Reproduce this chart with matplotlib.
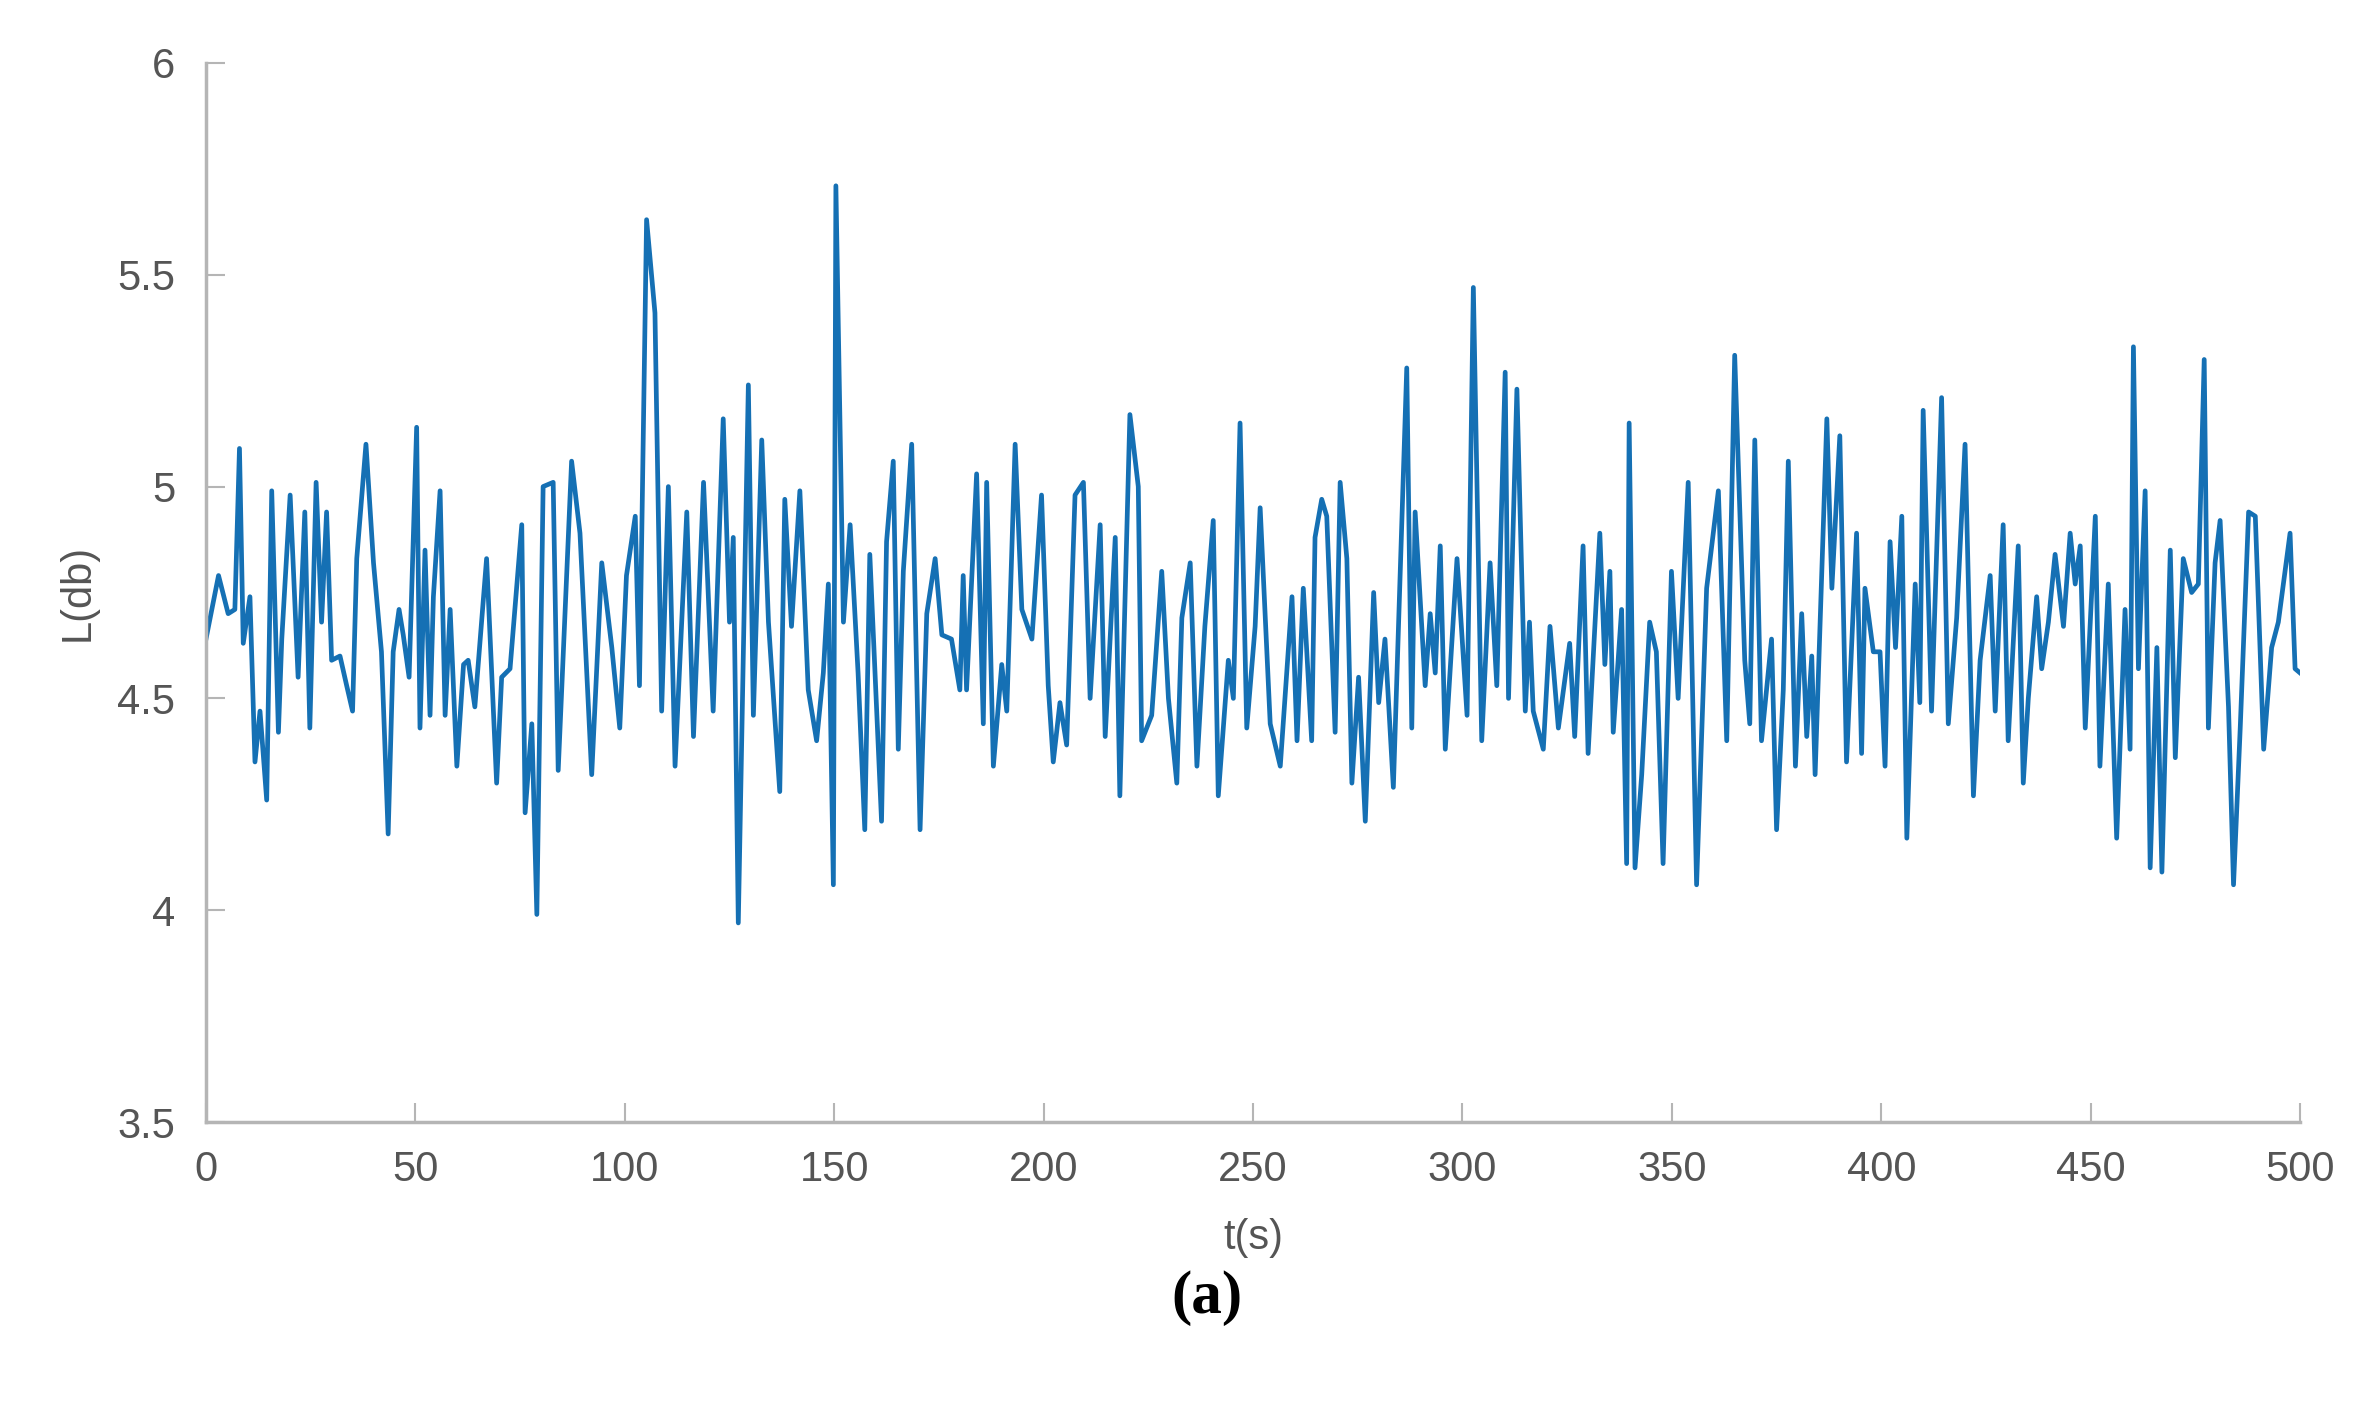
import matplotlib
matplotlib.use("Agg")
import matplotlib.pyplot as plt

# time (s) and level L (db)
t_part1 = [0, 3, 5.3, 6.9, 8, 8.9, 10.5, 11.7, 12.9, 14.5, 15.7, 17.3, 18.1, 20.1, 22, 23.6,
           24.8, 26.3, 27.6, 28.8, 30, 32, 33.6, 35, 36, 38.2, 40, 41.9, 43.5, 44.7, 46.1,
           47.1, 48.5, 50.3, 51.1, 52.3, 53.5, 54.3, 55.9, 57.1, 58.3, 59.9, 61.5]
L_part1 = [4.64, 4.79, 4.70, 4.71, 5.09, 4.63, 4.74, 4.35, 4.47, 4.26, 4.99, 4.42, 4.64, 4.98,
           4.55, 4.94, 4.43, 5.01, 4.68, 4.94, 4.59, 4.60, 4.53, 4.47, 4.83, 5.10, 4.82, 4.61,
           4.18, 4.61, 4.71, 4.65, 4.55, 5.14, 4.43, 4.85, 4.46, 4.74, 4.99, 4.46, 4.71, 4.34,
           4.58]

t_part2 = [62.6, 64.2, 67.0, 69.4, 70.6, 72.6, 75.4, 76.2, 77.8, 79.0, 80.5, 82.9, 84.1, 87.3,
           89.3, 92.1, 94.5, 96.9, 98.8, 100.4, 102.5, 103.5, 105.2, 107.2, 108.8, 110.4, 112.0,
           114.8, 116.4, 118.8, 121.1, 123.5, 125.0]
L_part2 = [4.59, 4.48, 4.83, 4.30, 4.55, 4.57, 4.91, 4.23, 4.44, 3.99, 5.00, 5.01, 4.33, 5.06,
           4.89, 4.32, 4.82, 4.62, 4.43, 4.79, 4.93, 4.53, 5.63, 5.41, 4.47, 5.00, 4.34, 4.94,
           4.41, 5.01, 4.47, 5.16, 4.68]

t_part3 = [125.9, 127.1, 129.5, 130.7, 132.7, 134.3, 137.0, 138.2, 139.8, 141.8, 143.8, 145.8,
           147.4, 148.6, 149.8, 150.4, 152.2, 153.8, 155.7, 157.3, 158.5, 161.3, 162.5, 164.1,
           165.3, 166.5, 168.5, 170.5, 172.1, 174.1, 175.7, 178.0, 180.0, 180.8, 181.6, 184.0,
           185.6, 186.4, 188.0]
L_part3 = [4.88, 3.97, 5.24, 4.46, 5.11, 4.68, 4.28, 4.97, 4.67, 4.99, 4.52, 4.40, 4.56, 4.77,
           4.06, 5.71, 4.68, 4.91, 4.56, 4.19, 4.84, 4.21, 4.87, 5.06, 4.38, 4.80, 5.10, 4.19,
           4.70, 4.83, 4.65, 4.64, 4.52, 4.79, 4.52, 5.03, 4.44, 5.01, 4.34]

t_part4 = [190.0, 191.2, 193.2, 194.8, 197.2, 199.5, 201.1, 202.3, 203.9, 205.5, 207.5, 209.5,
           211.1, 213.5, 214.7, 217.1, 218.2, 220.6, 222.6, 223.4, 225.8, 228.2, 229.8, 231.8,
           233.0, 235.0, 236.6, 238.5, 240.5, 241.7, 244.1, 245.3, 246.9, 248.5, 250.5]
L_part4 = [4.58, 4.47, 5.10, 4.71, 4.64, 4.98, 4.53, 4.35, 4.49, 4.39, 4.98, 5.01, 4.50, 4.91,
           4.41, 4.88, 4.27, 5.17, 5.00, 4.40, 4.46, 4.80, 4.50, 4.30, 4.69, 4.82, 4.34, 4.67,
           4.92, 4.27, 4.59, 4.50, 5.15, 4.43, 4.67]

t_part5 = [251.7, 254.1, 256.5, 259.3, 260.5, 262.0, 264.0, 264.8, 266.4, 267.6, 269.6, 270.8,
           272.4, 273.6, 275.2, 276.8, 278.8, 280.0, 281.5, 283.5, 286.7, 287.9, 288.7, 291.1,
           292.3, 293.5, 294.7, 295.9, 298.7, 301.1, 302.6, 304.6, 306.6, 308.2, 310.2, 311.0,
           313.0, 315.0]
L_part5 = [4.95, 4.44, 4.34, 4.74, 4.40, 4.76, 4.40, 4.88, 4.97, 4.93, 4.42, 5.01, 4.83, 4.30,
           4.55, 4.21, 4.75, 4.49, 4.64, 4.29, 5.28, 4.43, 4.94, 4.53, 4.70, 4.56, 4.86, 4.38,
           4.83, 4.46, 5.47, 4.40, 4.82, 4.53, 5.27, 4.50, 5.23, 4.47]

t_part6 = [316.0, 316.9, 319.3, 320.9, 322.9, 325.6, 326.8, 328.8, 330.0, 332.8, 334.0, 335.2,
           336.0, 338.0, 339.2, 339.8, 341.2, 342.8, 344.7, 346.3, 347.9, 349.9, 351.5, 353.9,
           355.9, 358.3, 361.1, 363.1, 365.0, 367.4, 368.6, 369.8, 371.4, 373.8, 375.0, 376.6,
           377.8]
L_part6 = [4.68, 4.47, 4.38, 4.67, 4.43, 4.63, 4.41, 4.86, 4.37, 4.89, 4.58, 4.80, 4.42, 4.71,
           4.11, 5.15, 4.10, 4.32, 4.68, 4.61, 4.11, 4.80, 4.50, 5.01, 4.06, 4.76, 4.99, 4.40,
           5.31, 4.59, 4.44, 5.11, 4.40, 4.64, 4.19, 4.52, 5.06]

t_part7 = [379.5, 381.0, 382.2, 383.4, 384.2, 387.0, 388.2, 390.1, 391.7, 394.1, 395.3, 396.1,
           398.1, 399.7, 400.9, 402.1, 403.4, 404.9, 406.1, 408.1, 409.2, 410.0, 412.0, 414.4,
           416.0, 418.0, 420.0, 422.0, 423.6, 426.0, 427.2, 429.1, 430.3, 432.7, 433.9, 435.1,
           437.1, 438.3, 439.9, 441.5]
L_part7 = [4.34, 4.70, 4.41, 4.60, 4.32, 5.16, 4.76, 5.12, 4.35, 4.89, 4.37, 4.76, 4.61, 4.61,
           4.34, 4.87, 4.62, 4.93, 4.17, 4.77, 4.49, 5.18, 4.47, 5.21, 4.44, 4.69, 5.10, 4.27,
           4.59, 4.79, 4.47, 4.91, 4.40, 4.86, 4.30, 4.50, 4.74, 4.57, 4.68, 4.84]

t_part8 = [443.5, 445.1, 446.3, 447.5, 448.7, 451.1, 452.2, 454.2, 456.2, 458.2, 459.4, 460.2,
           461.4, 463.0, 464.2, 465.8, 467.0, 469.0, 470.2, 472.1, 474.1, 475.7, 477.1, 478.1,
           479.7, 480.9, 482.9, 484.1, 485.7, 487.7, 489.3, 491.3, 493.2, 494.8, 497.6, 498.8,
           500.0]
L_part8 = [4.67, 4.89, 4.77, 4.86, 4.43, 4.93, 4.34, 4.77, 4.17, 4.71, 4.38, 5.33, 4.57, 4.99,
           4.10, 4.62, 4.09, 4.85, 4.36, 4.83, 4.75, 4.77, 5.30, 4.43, 4.82, 4.92, 4.48, 4.06,
           4.43, 4.94, 4.93, 4.38, 4.62, 4.68, 4.89, 4.57, 4.56]

x_ticks = [0, 50, 100, 150, 200, 250, 300, 350, 400, 450, 500]
y_ticks = [3.5, 4, 4.5, 5, 5.5, 6]
y_tick_labels = ["3.5", "4", "4.5", "5", "5.5", "6"]


def main():
    t = t_part1 + t_part2 + t_part3 + t_part4 + t_part5 + t_part6 + t_part7 + t_part8
    L = L_part1 + L_part2 + L_part3 + L_part4 + L_part5 + L_part6 + L_part7 + L_part8

    plt.rcParams['font.family'] = ['Liberation Sans', 'DejaVu Sans']

    fig = plt.figure(figsize=(23.62, 14.05), dpi=100)
    ax = fig.add_axes([0.0872, 0.2014, 0.8866, 0.7538])

    ax.plot(t, L, color='#1570b4', linewidth=3.4)

    ax.set_xlim(0, 500)
    ax.set_ylim(3.5, 6)
    ax.set_xticks(x_ticks)
    ax.set_yticks(y_ticks)
    ax.set_yticklabels(y_tick_labels)

    # matlab style axes: no box, light gray axis lines, inward ticks
    gray = '#b5b5b5'
    for side in ['top', 'right']:
        ax.spines[side].set_visible(False)
    for side in ['left', 'bottom']:
        ax.spines[side].set_color(gray)
        ax.spines[side].set_linewidth(2.5)
    ax.tick_params(direction='in', length=14, width=1.5, color=gray,
                   labelsize=30, labelcolor='#555555')
    ax.tick_params(axis='x', pad=20)
    ax.tick_params(axis='y', pad=22)

    ax.set_xlabel('t(s)', fontsize=30, color='#555555', labelpad=20)
    ax.set_ylabel('L(db)', fontsize=30, color='#555555', labelpad=14)

    # caption under the plot
    fig.text(0.511, 0.076, '(a)', fontsize=44, family='Liberation Serif',
             fontweight='bold', ha='center', va='center', color='black')

    fig.savefig('out.png', dpi=100, facecolor='white')


if __name__ == '__main__':
    main()
